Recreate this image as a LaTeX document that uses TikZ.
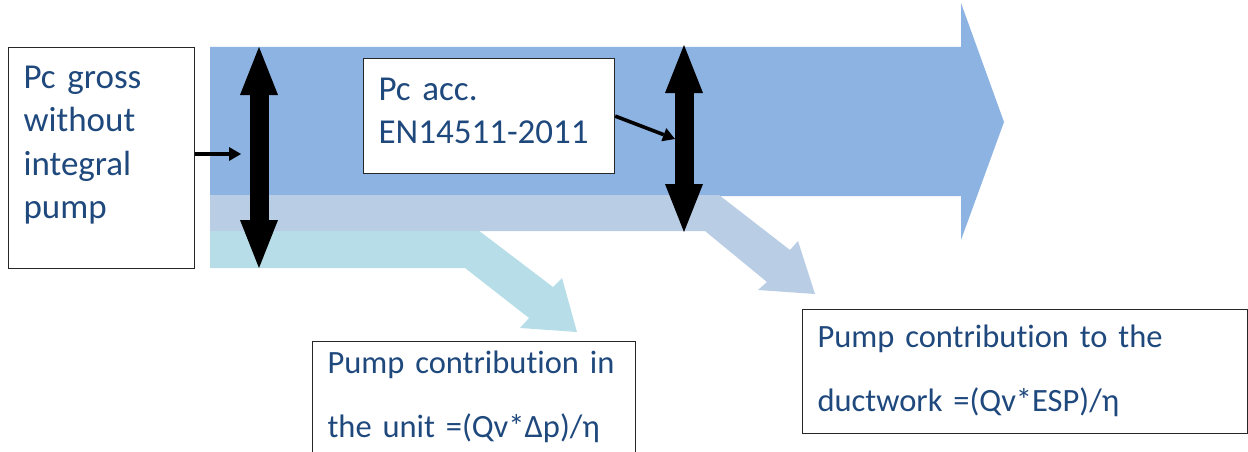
\documentclass[tikz,border=0pt]{standalone}
\usepackage{fontspec}
\setmainfont{Carlito}[Ligatures=NoCommon]
\usetikzlibrary{shapes}
\usetikzlibrary{arrows.meta}
\tikzstyle{every picture}+=[x=1pt, y=-1pt]
\tikzstyle{infobox}=[draw=black!85, line width=1.2pt, fill=white, anchor=north west, align=left, inner ysep=0pt, inner xsep=15pt, text=textblau]
\tikzstyle{bigtext}=[font=\fontsize{35}{43.3}\selectfont]
\tikzstyle{smalltext}=[font=\fontsize{32.5}{64}\selectfont]
\tikzstyle{pointer}=[line width=3.6pt, -{Triangle[length=12pt,width=14pt,line width=0pt]}]
\tikzstyle{dickpfeil}=[line width=19pt, {Triangle[length=48pt,width=38pt,line width=0pt]}-{Triangle[length=48pt,width=38pt,line width=0pt]}]

\begin{document}
\begin{tikzpicture}


\definecolor{bandblau}{HTML}{8DB3E2}
\definecolor{bandgrau}{HTML}{B9CDE5}
\definecolor{bandtuerkis}{HTML}{B7DEE8}
\definecolor{textblau}{HTML}{1F497D}
%%
\useasboundingbox (0,0) rectangle (1248,452);
\clip (0,0) rectangle (1248,452);

%% main flow
\fill[bandblau] (210,47) -- (961,47) -- (961,3) -- (1004,122) -- (961,240) -- (961,196) -- (210,196) -- cycle;

%% branch to the unit
\fill[bandtuerkis] (210,230) -- (478,230) -- (553,287) -- (562,278) -- (577,332)
   -- (520,328) -- (529,318) -- (465,268) -- (210,268) -- cycle;

%% branch to the ductwork
\fill[bandgrau] (210,195) -- (719,195) -- (790,250) -- (798,241) -- (815,294)
   -- (758,290) -- (767,282) -- (705,231) -- (210,231) -- cycle;


%% text boxes
\node[infobox, bigtext, text width=156pt, text height=41pt, text depth=180pt] (gross) at (8,47) {Pc gross\\without\\integral\\pump};
\node[infobox, bigtext, text width=221pt, text height=42pt, text depth=73pt] (accbox) at (363,58) {Pc acc.\\EN14511-2011};
\node[infobox, smalltext, text width=293pt, text height=32pt, text depth=130pt] (unitbox) at (312,341) {Pump contribution in\\the unit =(Qv*Δp)/η};
\node[infobox, smalltext, text width=415pt, text height=38pt, text depth=86pt] (ductbox) at (802,309) {Pump contribution to the\\ductwork =(Qv*ESP)/η};


%% black double arrows
\coordinate (leftTop) at (259,47);
\coordinate (leftBot) at (259,268);
\coordinate (rightTop) at (684,45);
\coordinate (rightBot) at (684,232);
\draw[dickpfeil] (leftTop) -- (leftBot);
\draw[dickpfeil] (rightTop) -- (rightBot);

%% pointers
\coordinate (leftHit) at (241,154);
\coordinate (rightHit) at (675,139);
\draw[pointer] (gross.east |- leftHit) -- (leftHit);
\draw[pointer] (accbox.east) -- (rightHit);


\end{tikzpicture}
\end{document}
